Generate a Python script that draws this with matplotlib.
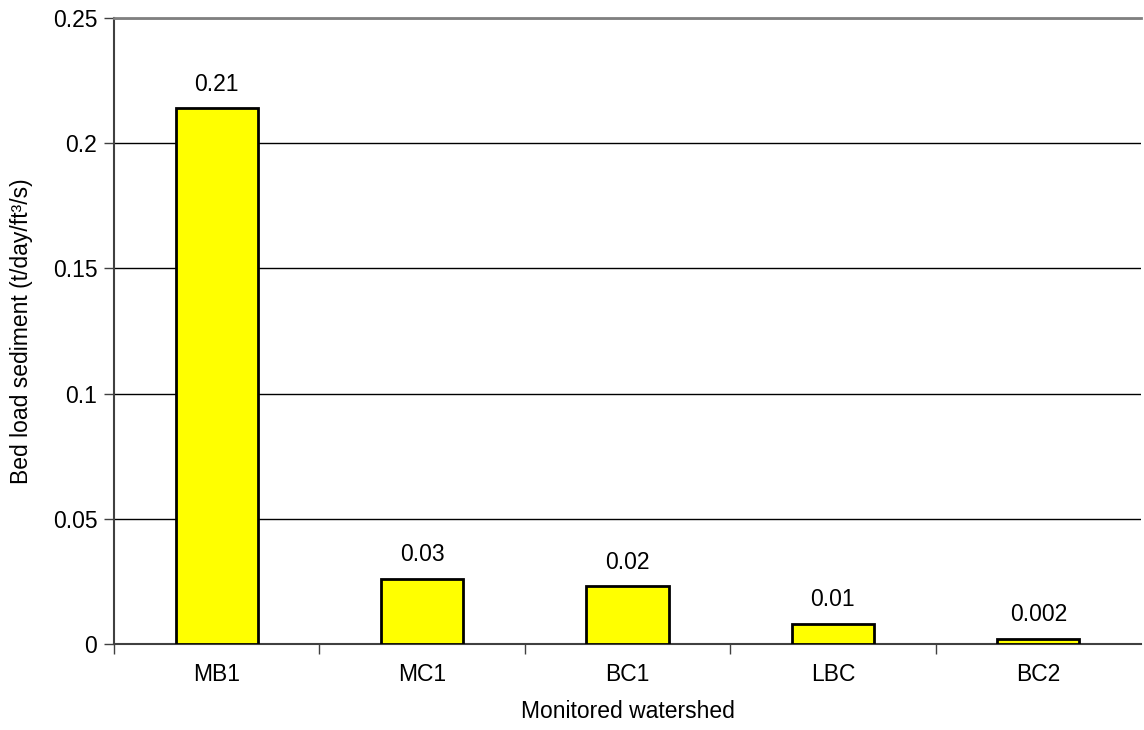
import matplotlib
matplotlib.use("Agg")
import matplotlib.pyplot as plt

categories = ["MB1", "MC1", "BC1", "LBC", "BC2"]
values = [0.214, 0.026, 0.023, 0.008, 0.002]
labels = ["0.21", "0.03", "0.02", "0.01", "0.002"]
yticks = [0, 0.05, 0.1, 0.15, 0.2, 0.25]
ytick_labels = ["0", "0.05", "0.1", "0.15", "0.2", "0.25"]

plt.rcParams['font.family'] = ['Liberation Sans', 'DejaVu Sans']
FS = 16.5

fig = plt.figure(figsize=(11.44, 7.30), dpi=100)
ax = fig.add_axes([114/1144, 1-644/730, (1141-114)/1144, (644-18)/730])

x = list(range(len(categories)))
ax.bar(x, values, width=0.40, color="#FFFF00", edgecolor="black", linewidth=2, zorder=3)
for xi, v, lab in zip(x, values, labels):
    ax.annotate(lab, (xi, v), xytext=(0, 9), textcoords="offset points",
                ha="center", va="bottom", fontsize=FS)

ax.set_xlim(-0.5, len(categories) - 0.5)
ax.set_ylim(0, 0.25)
ax.set_yticks(yticks)
ax.set_yticklabels(ytick_labels, fontsize=FS)
ax.set_xticks(x)
ax.set_xticklabels(categories, fontsize=FS)
ax.tick_params(axis="x", length=0, pad=14)
ax.set_xticks([i + 0.5 for i in range(-1, len(categories) - 1)], minor=True)
ax.tick_params(axis="x", which="minor", length=7, color="#404040", width=1)
ax.tick_params(axis="y", length=7, color="#404040", width=1, pad=5)

ax.yaxis.grid(True, color="black", linewidth=1, zorder=0)
ax.set_axisbelow(True)

for s in ["left", "bottom"]:
    ax.spines[s].set_color("#404040")
    ax.spines[s].set_linewidth(1.5)
ax.spines["top"].set_color("#808080")
ax.spines["top"].set_linewidth(2)
ax.spines["right"].set_visible(False)

ax.set_xlabel("Monitored watershed", fontsize=FS, labelpad=10)
ax.set_ylabel("Bed load sediment (t/day/ft³/s)", fontsize=FS, labelpad=14)

fig.savefig("out.png", dpi=100)
